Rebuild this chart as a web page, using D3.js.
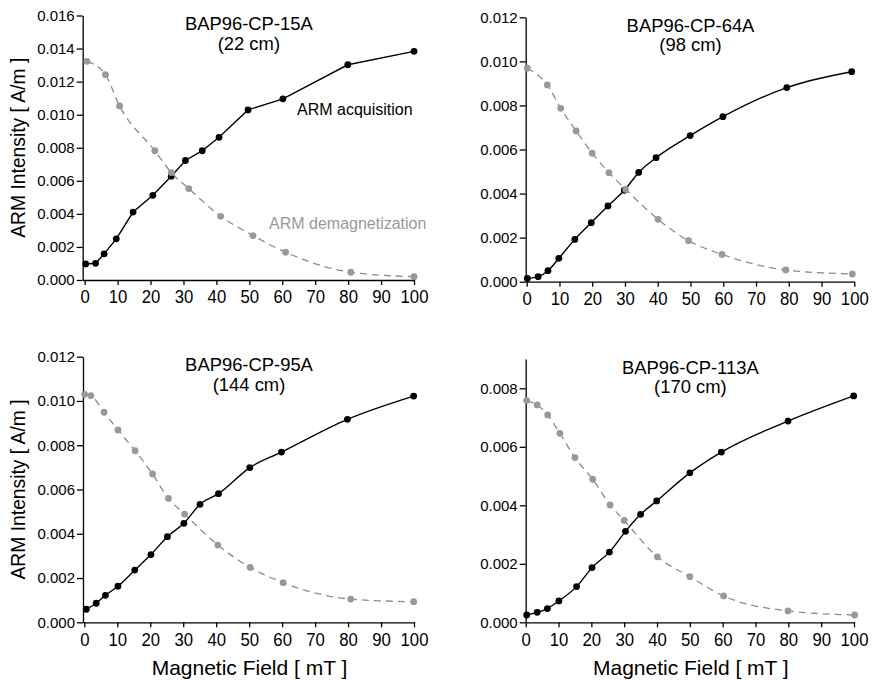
<!DOCTYPE html>
<html>
<head>
<meta charset="utf-8">
<script src="https://cdn.jsdelivr.net/npm/d3@7"></script>
<style>
  html, body { margin: 0; padding: 0; background: #fff; }
  svg { display: block; }
  text { font-family: "Liberation Sans", Arial, Helvetica, sans-serif; }
</style>
</head>
<body>
<svg id="chart" width="873" height="680"></svg>
<script>
// ---------- DATA ----------
const xTicks = [0, 10, 20, 30, 40, 50, 60, 70, 80, 90, 100];

// Panel 1: BAP96-CP-15A (22 cm)
const p1Title = ["BAP96-CP-15A", "(22 cm)"];
const p1AcqField = [0.3, 3.3, 5.9, 9.6, 14.7, 20.7, 26.3, 30.6, 35.7, 40.8, 49.6, 60.2, 79.9, 100];
const p1AcqARM   = [0.00097, 0.00101, 0.00158, 0.00249, 0.00411, 0.00512, 0.00628, 0.00723, 0.00782, 0.00863, 0.01029, 0.01096, 0.01302, 0.01383];
const p1DemField = [0.7, 6.3, 10.6, 21.3, 26.3, 31.6, 41.3, 51.1, 61.0, 80.8, 100];
const p1DemARM   = [0.01323, 0.01242, 0.01053, 0.00782, 0.00650, 0.00553, 0.00385, 0.00269, 0.00168, 0.00047, 0.00020];
const p1YTicks = [0, 0.002, 0.004, 0.006, 0.008, 0.010, 0.012, 0.014, 0.016];

// Panel 2: BAP96-CP-64A (98 cm)
const p2Title = ["BAP96-CP-64A", "(98 cm)"];
const p2AcqField = [0.2, 3.5, 6.5, 9.8, 14.7, 19.7, 24.8, 29.8, 34.2, 39.5, 49.9, 59.9, 79.4, 99.2];
const p2AcqARM   = [0.00015, 0.00023, 0.00050, 0.00106, 0.00192, 0.00268, 0.00344, 0.00415, 0.00496, 0.00563, 0.00663, 0.00749, 0.00881, 0.00953];
const p2DemField = [0.2, 6.3, 10.4, 15.1, 20.0, 25.1, 30.2, 40.1, 49.4, 59.6, 79.1, 99.4];
const p2DemARM   = [0.00969, 0.00893, 0.00787, 0.00684, 0.00583, 0.00495, 0.00419, 0.00283, 0.00186, 0.00124, 0.00053, 0.00035];
const p2YTicks = [0, 0.002, 0.004, 0.006, 0.008, 0.010, 0.012];

// Panel 3: BAP96-CP-95A (144 cm)
const p3Title = ["BAP96-CP-95A", "(144 cm)"];
const p3AcqField = [0.6, 3.6, 6.4, 10.2, 15.3, 20.2, 25.2, 30.2, 35.1, 40.7, 50.2, 59.8, 79.8, 99.9];
const p3AcqARM   = [0.00059, 0.00086, 0.00122, 0.00163, 0.00236, 0.00306, 0.00387, 0.00447, 0.00533, 0.00581, 0.00699, 0.00769, 0.00917, 0.01022];
const p3DemField = [0.1, 2.0, 6.0, 10.2, 15.4, 20.7, 25.5, 30.4, 40.5, 50.3, 60.3, 80.8, 99.9];
const p3DemARM   = [0.01030, 0.01024, 0.00949, 0.00869, 0.00775, 0.00670, 0.00560, 0.00489, 0.00349, 0.00248, 0.00179, 0.00105, 0.00093];
const p3YTicks = [0, 0.002, 0.004, 0.006, 0.008, 0.010, 0.012];

// Panel 4: BAP96-CP-113A (170 cm)
const p4Title = ["BAP96-CP-113A", "(170 cm)"];
const p4AcqField = [0.3, 3.5, 6.6, 10.1, 15.5, 20.2, 25.5, 30.4, 35.0, 39.9, 50.0, 59.6, 79.9, 99.9];
const p4AcqARM   = [0.00025, 0.00034, 0.00047, 0.00073, 0.00122, 0.00187, 0.00240, 0.00311, 0.00369, 0.00415, 0.00511, 0.00582, 0.00688, 0.00774];
const p4DemField = [0.3, 3.5, 6.7, 10.4, 15.0, 20.4, 25.7, 30.0, 40.1, 50.0, 60.3, 79.9, 100.2];
const p4DemARM   = [0.00758, 0.00743, 0.00709, 0.00646, 0.00563, 0.00489, 0.00401, 0.00348, 0.00224, 0.00156, 0.00090, 0.00039, 0.00025];
const p4YTicks = [0, 0.002, 0.004, 0.006, 0.008];

const yLabel = "ARM Intensity [ A/m ]";
const xLabel = "Magnetic Field [ mT ]";
const acqLabel = "ARM acquisition";
const demLabel = "ARM demagnetization";

// ---------- LAYOUT ----------
const panels = [
  { title: p1Title, aF: p1AcqField, aV: p1AcqARM, dF: p1DemField, dV: p1DemARM, yTicks: p1YTicks,
    xDom: [-0.6, 100], xR: [82.7, 414], yDom: [0, 0.016], yR: [280, 15.5], left: true, bottom: false, linear: true, labels: true },
  { title: p2Title, aF: p2AcqField, aV: p2AcqARM, dF: p2DemField, dV: p2DemARM, yTicks: p2YTicks,
    xDom: [-0.3, 100], xR: [525.7, 854.3], yDom: [0, 0.012], yR: [281.7, 17.3], left: false, bottom: false },
  { title: p3Title, aF: p3AcqField, aV: p3AcqARM, dF: p3DemField, dV: p3DemARM, yTicks: p3YTicks,
    xDom: [-0.4, 100], xR: [83, 414], yDom: [0, 0.012], yR: [622.3, 356.7], left: true, bottom: true },
  { title: p4Title, aF: p4AcqField, aV: p4AcqARM, dF: p4DemField, dV: p4DemARM, yTicks: p4YTicks,
    xDom: [0, 100], xR: [525.7, 854], yDom: [0, 0.009], yR: [622.3, 359.05], left: false, bottom: true }
];

const svg = d3.select("#chart");
const fmt = d3.format(".3f");

panels.forEach(p => {
  const x = d3.scaleLinear().domain(p.xDom).range(p.xR);
  const y = d3.scaleLinear().domain(p.yDom).range(p.yR);
  const g = svg.append("g");

  // axes
  const xa = g.append("g").attr("transform", `translate(0,${p.yR[0]})`)
    .call(d3.axisBottom(x).tickValues(xTicks).tickSize(5).tickPadding(5).tickSizeOuter(0).tickFormat(d3.format("d")));
  xa.selectAll("text").attr("font-size", 19).attr("fill", "#000")
    .attr("font-family", '"Liberation Sans", Arial, sans-serif')
    .attr("transform", "scale(0.88,1)");
  const ya = g.append("g").attr("transform", `translate(${p.xR[0]},0)`)
    .call(d3.axisLeft(y).tickValues(p.yTicks).tickSize(6).tickPadding(2).tickSizeOuter(0).tickFormat(fmt));
  ya.selectAll("text").attr("font-size", 15).attr("fill", "#000")
    .attr("font-family", '"Liberation Sans", Arial, sans-serif');
  g.selectAll(".domain, .tick line").attr("stroke", "#000").attr("stroke-width", 1.3);

  const curve = p.linear ? d3.curveLinear : d3.curveMonotoneX;
  const acq = p.aF.map((f, i) => [f, p.aV[i]]);
  const dem = p.dF.map((f, i) => [f, p.dV[i]]);
  const line = d3.line().x(d => x(d[0])).y(d => y(d[1])).curve(curve);

  // acquisition (black)
  g.append("path").datum(acq).attr("d", line)
    .attr("fill", "none").attr("stroke", "#000").attr("stroke-width", 1.4);
  g.selectAll(".acq").data(acq).join("circle")
    .attr("cx", d => x(d[0])).attr("cy", d => y(d[1])).attr("r", 3.4).attr("fill", "#000");

  // demagnetization (gray dashed)
  g.append("path").datum(dem).attr("d", d3.line().x(d => x(d[0])).y(d => y(d[1])).curve(d3.curveMonotoneX))
    .attr("fill", "none").attr("stroke", "#8c8c8c").attr("stroke-width", 1.3).attr("stroke-dasharray", "7,5");
  g.selectAll(".dem").data(dem).join("circle")
    .attr("cx", d => x(d[0])).attr("cy", d => y(d[1])).attr("r", 3.4).attr("fill", "#999");

  // title
  const cx = (p.xR[0] + p.xR[1]) / 2 + 0.5;
  g.append("text").attr("x", cx).attr("y", p.yR[1] + 14.5).attr("text-anchor", "middle")
    .attr("font-size", 18.4).attr("fill", "#000").text(p.title[0]);
  g.append("text").attr("x", cx).attr("y", p.yR[1] + 34).attr("text-anchor", "middle")
    .attr("font-size", 18.4).attr("fill", "#000").text(p.title[1]);

  if (p.labels) {
    g.append("text").attr("x", 297).attr("y", 115).attr("font-size", 16).attr("fill", "#000").text(acqLabel);
    g.append("text").attr("x", 269).attr("y", 229).attr("font-size", 16).attr("fill", "#999").text(demLabel);
  }
  if (p.left) {
    const cy = (p.yR[0] + p.yR[1]) / 2;
    g.append("text").attr("transform", `translate(25,${cy}) rotate(-90)`).attr("text-anchor", "middle")
      .attr("font-size", 19.3).attr("fill", "#000").text(yLabel);
  }
  if (p.bottom) {
    g.append("text").attr("x", (p.xR[0] + p.xR[1]) / 2 + 1).attr("y", 675).attr("text-anchor", "middle")
      .attr("font-size", 21).attr("fill", "#000").text(xLabel);
  }
});
</script>
</body>
</html>
